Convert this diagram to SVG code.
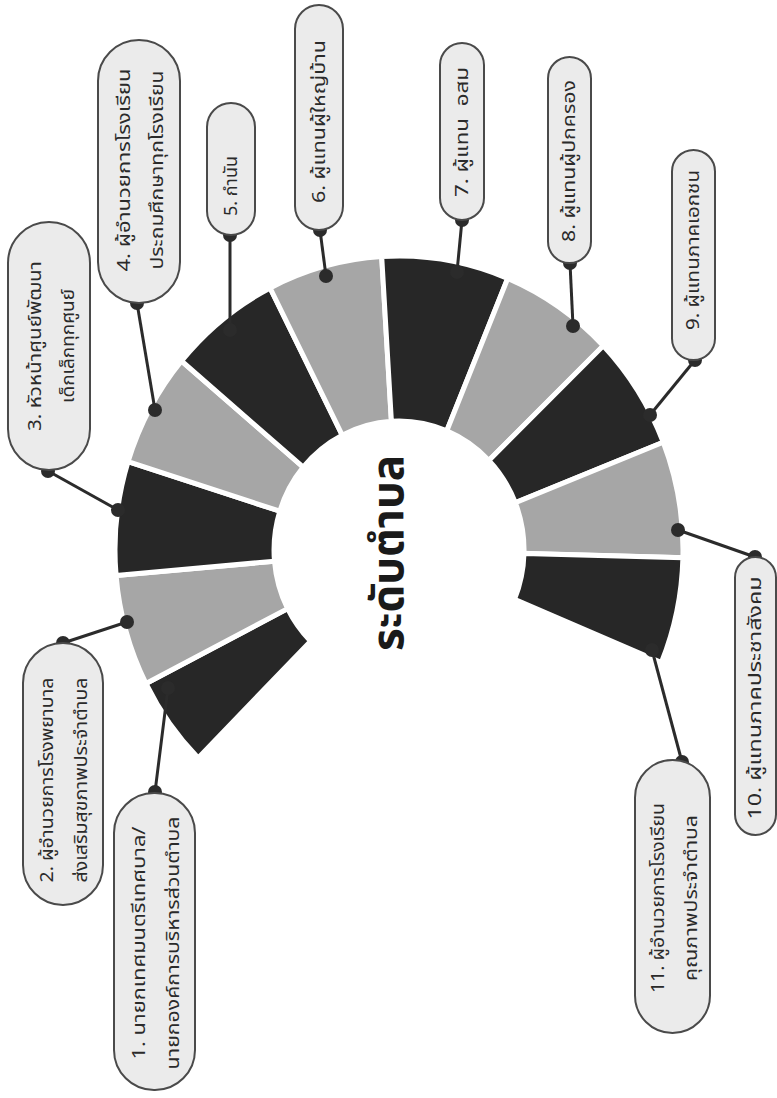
<svg xmlns="http://www.w3.org/2000/svg" width="777" height="1098" viewBox="0 0 777 1098">
<style>
.bg{fill:#ffffff}
.dk{fill:#272727;stroke:#ffffff;stroke-width:5;stroke-linejoin:miter}
.lt{fill:#a6a6a6;stroke:#ffffff;stroke-width:5;stroke-linejoin:miter}
.pill{fill:#ebebeb;stroke:#4a4a4a;stroke-width:2}
.lbl{font-family:"Noto Sans Thai","Noto Sans","DejaVu Sans",sans-serif;font-size:18px;fill:#2a2a2a;text-anchor:middle;dominant-baseline:central}
.ttl{font-family:"Noto Sans Thai","Noto Sans","DejaVu Sans",sans-serif;font-size:44px;font-weight:bold;fill:#1a1a1a;text-anchor:middle;dominant-baseline:central}
.ln{stroke:#2b2b2b;stroke-width:3;fill:none}
.dot{fill:#2b2b2b}
</style>
<rect class="bg" x="0" y="0" width="777" height="1098"/>
<g id="ring">
<path class="dk" d="M198.2,757.9 A284,294 0 0 1 146.0,683.5 L287.6,608.6 A125,129 0 0 0 310.6,641.2 Z"/>
<path class="lt" d="M146.0,683.5 A284,294 0 0 1 116.1,575.6 L274.5,561.2 A125,129 0 0 0 287.6,608.6 Z"/>
<path class="dk" d="M116.1,575.6 A284,294 0 0 1 128.1,461.6 L279.8,511.2 A125,129 0 0 0 274.5,561.2 Z"/>
<path class="lt" d="M128.1,461.6 A284,294 0 0 1 181.5,361.0 L303.2,467.1 A125,129 0 0 0 279.8,511.2 Z"/>
<path class="dk" d="M181.5,361.0 A284,294 0 0 1 270.1,288.0 L342.2,435.1 A125,129 0 0 0 303.2,467.1 Z"/>
<path class="lt" d="M270.1,288.0 A284,294 0 0 1 381.7,256.6 L391.4,421.2 A125,129 0 0 0 342.2,435.1 Z"/>
<path class="dk" d="M381.7,256.6 A284,294 0 0 1 507.7,278.4 L446.8,430.8 A125,129 0 0 0 391.4,421.2 Z"/>
<path class="lt" d="M507.7,278.4 A284,294 0 0 1 603.3,345.8 L488.9,460.4 A125,129 0 0 0 446.8,430.8 Z"/>
<path class="dk" d="M603.3,345.8 A284,294 0 0 1 663.2,442.2 L515.3,502.7 A125,129 0 0 0 488.9,460.4 Z"/>
<path class="lt" d="M663.2,442.2 A284,294 0 0 1 682.9,557.7 L524.0,553.4 A125,129 0 0 0 515.3,502.7 Z"/>
<path class="dk" d="M682.9,557.7 A284,294 0 0 1 661.4,662.5 L514.5,599.4 A125,129 0 0 0 524.0,553.4 Z"/>
<text class="ttl" transform="translate(389,553) rotate(-90)" textLength="196" lengthAdjust="spacingAndGlyphs">ระดับตำบล</text>
</g>
<g id="connectors">
<line class="ln" x1="155" y1="792" x2="168" y2="688"/><circle class="dot" cx="155" cy="792" r="7"/><circle class="dot" cx="168" cy="688" r="7"/>
<line class="ln" x1="63" y1="643" x2="127" y2="622"/><circle class="dot" cx="63" cy="643" r="7"/><circle class="dot" cx="127" cy="622" r="7"/>
<line class="ln" x1="48" y1="471" x2="118" y2="510"/><circle class="dot" cx="48" cy="471" r="7"/><circle class="dot" cx="118" cy="510" r="7"/>
<line class="ln" x1="137" y1="303" x2="155" y2="410"/><circle class="dot" cx="137" cy="303" r="7"/><circle class="dot" cx="155" cy="410" r="7"/>
<line class="ln" x1="230" y1="235" x2="230" y2="330"/><circle class="dot" cx="230" cy="235" r="7"/><circle class="dot" cx="230" cy="330" r="7"/>
<line class="ln" x1="320" y1="230" x2="326" y2="276"/><circle class="dot" cx="320" cy="230" r="7"/><circle class="dot" cx="326" cy="276" r="7"/>
<line class="ln" x1="462" y1="220" x2="457" y2="272"/><circle class="dot" cx="462" cy="220" r="7"/><circle class="dot" cx="457" cy="272" r="7"/>
<line class="ln" x1="570" y1="263" x2="573" y2="326"/><circle class="dot" cx="570" cy="263" r="7"/><circle class="dot" cx="573" cy="326" r="7"/>
<line class="ln" x1="695" y1="360" x2="650" y2="415"/><circle class="dot" cx="695" cy="360" r="7"/><circle class="dot" cx="650" cy="415" r="7"/>
<line class="ln" x1="755" y1="557" x2="678" y2="530"/><circle class="dot" cx="755" cy="557" r="7"/><circle class="dot" cx="678" cy="530" r="7"/>
<line class="ln" x1="682" y1="762" x2="652" y2="650"/><circle class="dot" cx="682" cy="762" r="7"/><circle class="dot" cx="652" cy="650" r="7"/>
</g>
<g id="n1"><rect class="pill" x="114" y="793" width="81" height="297" rx="40"/>
<text class="lbl" transform="translate(154.5,943) rotate(-90)"><tspan x="0" y="-16" textLength="233" lengthAdjust="spacingAndGlyphs">1. นายกเทศมนตรีเทศบาล/</tspan><tspan x="0" y="18" textLength="253" lengthAdjust="spacingAndGlyphs">นายกองค์การบริหารส่วนตำบล</tspan></text></g>
<g id="n2"><rect class="pill" x="23" y="643" width="80" height="262" rx="40"/>
<text class="lbl" transform="translate(63,780) rotate(-90)"><tspan x="0" y="-16" textLength="205" lengthAdjust="spacingAndGlyphs">2. ผู้อำนวยการโรงพยาบาล</tspan><tspan x="0" y="18" textLength="205" lengthAdjust="spacingAndGlyphs">ส่งเสริมสุขภาพประจำตำบล</tspan></text></g>
<g id="n3"><rect class="pill" x="8" y="222" width="82" height="248" rx="41"/>
<text class="lbl" transform="translate(49,346) rotate(-90)"><tspan x="0" y="-14" textLength="170" lengthAdjust="spacingAndGlyphs">3. หัวหน้าศูนย์พัฒนา</tspan><tspan x="0" y="19" textLength="114" lengthAdjust="spacingAndGlyphs">เด็กเล็กทุกศูนย์</tspan></text></g>
<g id="n4"><rect class="pill" x="98" y="40" width="82" height="263" rx="41"/>
<text class="lbl" transform="translate(139,170) rotate(-90)"><tspan x="0" y="-15" textLength="203" lengthAdjust="spacingAndGlyphs">4. ผู้อำนวยการโรงเรียน</tspan><tspan x="0" y="18" textLength="199" lengthAdjust="spacingAndGlyphs">ประถมศึกษาทุกโรงเรียน</tspan></text></g>
<g id="n5"><rect class="pill" x="207" y="103" width="48" height="132" rx="24"/>
<text class="lbl" transform="translate(231,186) rotate(-90)" textLength="60" lengthAdjust="spacingAndGlyphs">5. กำนัน</text></g>
<g id="n6"><rect class="pill" x="295" y="5" width="48" height="225" rx="24"/>
<text class="lbl" transform="translate(319,121.5) rotate(-90)" textLength="163" lengthAdjust="spacingAndGlyphs">6. ผู้แทนผู้ใหญ่บ้าน</text></g>
<g id="n7"><rect class="pill" x="440" y="43" width="44" height="177" rx="22"/>
<text class="lbl" transform="translate(462,132) rotate(-90)" xml:space="preserve" textLength="130" lengthAdjust="spacingAndGlyphs">7. ผู้แทน  อสม</text></g>
<g id="n8"><rect class="pill" x="548" y="57" width="43" height="206" rx="21.5"/>
<text class="lbl" transform="translate(569.5,161) rotate(-90)" textLength="162" lengthAdjust="spacingAndGlyphs">8. ผู้แทนผู้ปกครอง</text></g>
<g id="n9"><rect class="pill" x="672" y="150" width="43" height="210" rx="21.5"/>
<text class="lbl" transform="translate(693.5,250) rotate(-90)" textLength="160" lengthAdjust="spacingAndGlyphs">9. ผู้แทนภาคเอกชน</text></g>
<g id="n10"><rect class="pill" x="735" y="557" width="41" height="278" rx="20.5"/>
<text class="lbl" transform="translate(755.5,698) rotate(-90)" textLength="243" lengthAdjust="spacingAndGlyphs">10. ผู้แทนภาคประชาสังคม</text></g>
<g id="n11"><rect class="pill" x="635" y="760" width="75" height="273" rx="37.5"/>
<text class="lbl" transform="translate(672.5,898) rotate(-90)"><tspan x="0" y="-15" textLength="190" lengthAdjust="spacingAndGlyphs">11. ผู้อำนวยการโรงเรียน</tspan><tspan x="0" y="18" textLength="166" lengthAdjust="spacingAndGlyphs">คุณภาพประจำตำบล</tspan></text></g>
</svg>
